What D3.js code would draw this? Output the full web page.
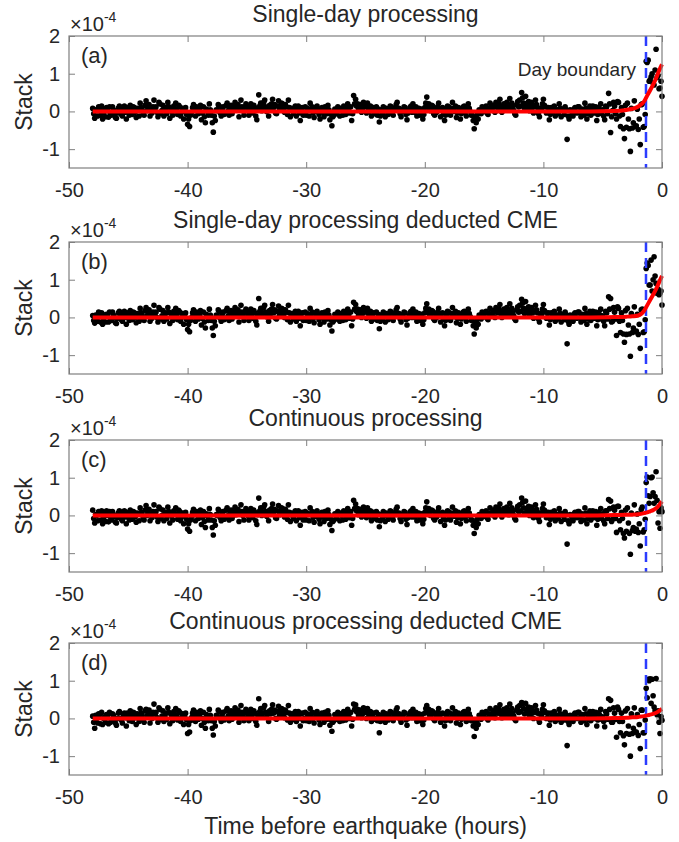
<!DOCTYPE html>
<html>
<head>
<meta charset="utf-8">
<script src="https://cdn.jsdelivr.net/npm/d3@7"></script>
<style>
body { margin: 0; background: #fff; }
text { font-family: "Liberation Sans", Arial, sans-serif; fill: #262626; }
</style>
</head>
<body>
<svg id="chart" width="679" height="842"></svg>
<script>
// panel titles and tags
const titles = ["Single-day processing", "Single-day processing deducted CME",
                "Continuous processing", "Continuous processing deducted CME"];
const tags = ["(a)", "(b)", "(c)", "(d)"];

// stack values, units of 1e-6, one value every 5 min from -48 h to 0 h (one row per hour)
const stackA = [
  8,-6,-18,4,2,-12,12,6,-10,14,-20,-4,
  4,-14,10,2,-15,12,-6,-10,12,4,-2,-16,
  -18,-4,9,14,3,-8,-12,6,14,-2,-20,10,
  2,-10,16,4,-8,12,10,-2,-16,8,6,-12,
  22,10,4,-6,-10,16,28,2,8,18,-12,4,
  -4,12,30,8,12,-2,-14,24,20,-6,2,16,
  -12,4,10,-6,24,12,-18,8,0,-10,14,6,
  22,4,-8,16,12,-12,-2,8,-20,2,10,-8,
  -34,-20,-40,-10,-2,10,18,4,-12,12,8,-6,
  4,16,-22,-4,12,-14,-30,6,0,-10,20,4,
  -10,-30,-55,-12,-24,4,2,18,14,-4,-12,6,
  12,-8,-4,16,22,2,-10,10,16,-6,2,14,
  24,4,8,18,-14,6,30,12,2,-10,12,20,
  14,2,-10,10,20,6,-4,16,10,-12,-22,4,
  44,14,22,2,10,24,30,12,0,8,-12,16,
  8,20,32,10,18,-4,-6,14,28,4,10,22,
  20,6,-2,18,12,-8,30,10,-14,4,8,-6,
  2,14,-12,6,14,-4,-24,8,10,-10,-4,12,
  -10,8,4,-12,22,6,12,-4,-16,10,0,14,
  4,-8,-20,6,10,-2,-14,12,2,-6,16,4,
  -22,-8,-38,-14,-10,6,2,-6,12,4,-12,8,
  2,-10,14,6,-8,10,20,2,-4,12,-24,-6,
  42,20,32,14,20,4,10,18,-2,8,24,12,
  14,-4,22,8,0,14,-12,6,10,-6,-4,12,
  -10,6,-28,-12,4,-6,12,2,-14,8,0,-8,
  2,14,12,-4,-10,8,4,18,24,6,8,-6,
  -14,4,0,12,10,-8,-22,-4,2,10,14,-2,
  20,6,-2,12,-12,2,8,-10,-4,6,-20,-8,
  10,22,38,12,20,4,2,16,14,-6,-10,6,
  -2,12,22,4,-14,8,10,-6,-24,-10,4,14,
  12,-4,-10,8,24,6,0,14,-16,-4,10,2,
  -20,-6,4,12,14,-2,-12,6,20,8,0,-10,
  -10,-24,-46,-18,-30,-8,-20,4,2,-6,12,4,
  0,10,14,-4,-8,8,22,6,4,16,12,-2,
  24,12,10,20,32,8,-2,14,20,6,14,24,
  12,4,34,16,22,10,2,-6,-10,18,26,12,
  30,14,50,36,22,8,40,20,12,26,2,16,
  24,10,-4,14,30,18,10,-6,-14,8,4,20,
  32,16,12,-4,-2,10,-22,-8,10,4,0,14,
  -12,2,4,-6,20,8,-14,6,2,-8,12,4,
  -74,-12,-20,4,2,-8,-12,6,10,-2,-4,12,
  12,-2,-14,6,4,-10,22,8,-20,-6,2,14,
  -10,6,14,-4,2,12,-24,-8,10,4,20,-6,
  4,-12,-22,14,12,-6,48,20,-56,-14,2,24,
  14,-6,-20,26,24,-12,-40,10,-8,-46,-72,16,
  -42,22,-20,-46,-106,8,-44,-30,28,-40,-38,6,
  -48,-20,-88,18,20,-42,-40,-8,133,130,136,80,
  84,92,100,75,70,110,165,90,95,60,62,80,
  40
];
const stackB = [
  5,-8,-15,6,4,-10,14,8,-12,12,-18,-2,
  6,-12,8,4,-12,14,-8,-8,14,6,0,-14,
  -16,-2,12,16,2,-6,-10,8,16,0,-18,12,
  4,-8,18,6,-6,14,12,0,-14,10,8,-10,
  24,12,6,-4,-8,18,26,4,10,20,-10,6,
  -2,14,32,10,14,0,-12,26,22,-4,4,18,
  -10,6,12,-4,26,14,-16,10,2,-8,16,8,
  24,6,-6,18,14,-10,0,10,-18,4,12,-6,
  -32,-18,-38,-8,0,12,20,6,-10,14,10,-4,
  6,18,-20,-2,14,-12,-28,8,2,-8,22,6,
  -8,-28,-48,-10,-22,6,4,20,16,-2,-10,8,
  14,-6,-2,18,24,4,-8,12,18,-4,4,16,
  26,6,10,20,-12,8,32,14,4,-8,14,22,
  16,4,-8,12,22,8,-2,18,12,-10,-20,6,
  50,16,24,4,12,26,32,14,2,10,-10,18,
  10,22,34,12,20,-2,-4,16,30,6,12,24,
  22,8,0,20,14,-6,32,12,-12,6,10,-4,
  4,16,-10,8,16,-2,-22,10,12,-8,-2,14,
  -8,10,6,-10,24,8,14,-2,-14,12,2,16,
  6,-6,-18,8,12,0,-12,14,4,-4,18,6,
  -20,-6,-36,-12,-8,8,4,-4,14,6,-10,10,
  4,-8,16,8,-6,12,22,4,-2,14,-22,-4,
  40,22,34,16,22,6,12,20,0,10,26,14,
  16,-2,24,10,2,16,-10,8,12,-4,-2,14,
  -8,8,-30,-10,6,-4,14,4,-12,10,2,-6,
  4,16,14,-2,-8,10,6,20,26,8,10,-4,
  -12,6,2,14,12,-6,-20,-2,4,12,16,0,
  22,8,0,14,-10,4,10,-8,-2,8,-18,-6,
  12,24,36,14,22,6,4,18,16,-4,-8,8,
  0,14,24,6,-12,10,12,-4,-22,-8,6,16,
  14,-2,-8,10,26,8,2,16,-14,-2,12,4,
  -18,-4,6,14,16,0,-10,8,22,10,2,-8,
  -8,-22,-44,-16,-28,-6,-18,6,4,-4,14,6,
  2,12,16,-2,-6,10,24,8,6,18,14,0,
  26,14,12,22,34,10,0,16,22,8,16,26,
  14,6,36,18,24,12,4,-4,-8,20,28,14,
  32,16,48,38,24,10,42,22,14,28,4,18,
  26,12,-2,16,32,20,12,-4,-12,10,6,22,
  34,18,14,-2,0,12,-20,-6,12,6,2,16,
  -10,4,6,-4,22,10,-12,8,4,-6,14,6,
  -70,-10,-18,6,4,-6,-10,8,12,0,-2,14,
  14,0,-12,8,6,-8,24,10,-18,-4,4,16,
  -8,8,16,-2,4,14,-22,-6,12,6,22,-4,
  4,-10,-22,16,12,-4,55,22,50,-12,-10,26,
  14,-4,-48,28,24,-10,-40,12,-8,-44,-66,18,
  -45,24,-20,-44,-103,10,-40,-28,28,-38,-36,8,
  -45,-18,-82,20,22,-40,-38,-6,130,144,138,86,
  86,152,70,100,161,110,90,64,75,60,64,70,
  33
];
const stackC = [
  14,-8,-20,2,0,-14,10,4,-12,12,-22,-6,
  2,-16,12,0,-17,10,-4,-12,10,2,-4,-18,
  -20,-6,7,12,5,-10,-14,4,12,-4,-22,8,
  0,-12,14,2,-10,10,8,-4,-18,6,4,-14,
  20,8,2,-8,-12,14,26,0,6,16,-14,2,
  -6,10,28,6,10,-4,-16,22,18,-8,0,14,
  -14,2,8,-8,22,10,-20,6,-2,-12,12,4,
  20,2,-10,14,10,-14,-4,6,-22,0,8,-10,
  -36,-22,-42,-12,-4,8,16,2,-14,10,6,-8,
  2,14,-24,-6,10,-16,-32,4,-2,-12,18,2,
  -12,-32,-52,-14,-26,2,0,16,12,-6,-14,4,
  10,-10,-6,14,20,0,-12,8,14,-8,0,12,
  22,2,6,16,-16,4,28,10,0,-12,10,18,
  12,0,-12,8,18,4,-6,14,8,-14,-24,2,
  46,12,20,0,8,22,28,10,-2,6,-14,14,
  6,18,30,8,16,-6,-8,12,26,2,8,20,
  18,4,-4,16,10,-10,28,8,-16,2,6,-8,
  0,12,-14,4,12,-6,-26,6,8,-12,-6,10,
  -12,6,2,-14,20,4,10,-6,-18,8,-2,12,
  2,-10,-22,4,8,-4,-16,10,0,-8,14,2,
  -24,-10,-40,-16,-12,4,0,-8,10,2,-14,6,
  0,-12,12,4,-10,8,18,0,-6,10,-26,-8,
  40,18,30,12,18,2,8,16,-4,6,22,10,
  12,-6,20,6,-2,12,-14,4,8,-8,-6,10,
  -12,4,-30,-14,2,-8,10,0,-16,6,-2,-10,
  0,12,10,-6,-12,6,2,16,22,4,6,-8,
  -16,2,-2,10,8,-10,-24,-6,0,8,12,-4,
  18,4,-4,10,-14,0,6,-12,-6,4,-22,-10,
  8,20,36,10,18,2,0,14,12,-8,-12,4,
  -4,10,20,2,-16,6,8,-8,-26,-12,2,12,
  10,-6,-12,6,22,4,-2,12,-18,-6,8,0,
  -22,-8,2,10,12,-4,-14,4,18,6,-2,-12,
  -12,-26,-48,-20,-32,-10,-22,2,0,-8,10,2,
  -2,8,12,-6,-10,6,20,4,2,14,10,-4,
  22,10,8,18,30,6,-4,12,18,4,12,22,
  10,2,32,14,20,8,0,-8,-12,16,24,10,
  28,12,46,34,20,6,38,18,10,24,0,14,
  22,8,-6,12,28,16,8,-8,-16,6,2,18,
  30,14,10,-6,-4,8,-24,-10,8,2,-2,12,
  -14,0,2,-8,18,6,-16,4,0,-10,10,2,
  -76,-14,-22,2,0,-10,-14,4,8,-4,-6,10,
  10,-4,-16,4,2,-12,20,6,-22,-8,0,12,
  -12,4,12,-6,0,10,-26,-10,8,2,18,-8,
  4,-14,-22,12,12,-8,42,18,38,-16,-10,22,
  14,-8,-45,24,24,-14,-38,8,-8,-48,-60,14,
  -42,20,-20,-48,-103,6,-40,-32,28,-42,-36,4,
  -45,-22,-81,16,22,-44,-38,-10,87,102,52,32,
  50,100,102,60,32,50,116,40,-20,10,-34,20,
  10
];
const stackD = [
  6,-10,-26,8,0,-12,12,10,-14,16,-16,0,
  4,-10,10,6,-14,16,-10,-6,12,8,-2,-12,
  -18,0,14,18,0,-4,-12,10,14,2,-20,14,
  2,-6,20,8,-8,16,14,2,-16,12,10,-8,
  26,14,8,-2,-10,20,24,6,12,22,-12,8,
  0,16,38,12,16,2,-10,28,24,-2,6,20,
  -8,8,14,-2,28,16,-14,12,4,-6,18,10,
  26,8,-4,20,16,-8,2,12,-16,6,14,-4,
  -40,-16,-36,-6,2,14,22,8,-8,16,12,-2,
  8,20,-18,0,16,-10,-26,10,4,-6,24,8,
  -6,-26,-44,-8,-20,8,6,22,18,0,-8,10,
  16,-4,0,20,26,6,-6,14,20,-2,6,18,
  28,8,12,22,-10,10,34,16,6,-6,16,24,
  18,6,-6,14,24,10,0,20,14,-8,-18,8,
  52,18,26,6,14,28,34,16,4,12,-8,20,
  12,24,36,14,22,0,-2,18,32,8,14,26,
  24,10,2,22,16,-4,34,14,-10,8,12,-2,
  6,18,-8,10,18,0,-20,12,14,-6,0,16,
  -6,12,8,-8,26,10,16,0,-12,14,4,18,
  8,-4,-16,10,14,2,-10,16,6,-2,20,8,
  -18,-4,-34,-10,-6,10,6,-2,16,8,-8,12,
  6,-6,18,10,-4,14,24,6,0,16,-20,-2,
  38,24,36,18,24,8,14,22,2,12,28,16,
  18,0,26,12,4,18,-8,10,14,-2,0,16,
  -6,10,-38,-8,8,-2,16,6,-10,12,4,-4,
  6,18,16,0,-6,12,8,22,28,10,12,-2,
  -10,8,4,16,14,-4,-18,0,6,14,18,2,
  24,10,2,16,-8,6,12,-6,0,10,-16,-4,
  14,26,34,16,24,8,6,20,18,-2,-6,10,
  2,16,26,8,-10,12,14,-2,-20,-6,8,18,
  16,0,-6,12,28,10,4,18,-12,0,14,6,
  -16,-2,8,16,18,2,-8,10,24,12,4,-6,
  -6,-20,-48,-14,-26,-4,-16,8,6,-2,16,8,
  4,14,18,0,-4,12,26,10,8,20,16,2,
  28,16,14,24,36,12,2,18,24,10,18,28,
  16,8,38,20,26,14,6,-2,-6,22,30,16,
  34,18,42,40,26,12,40,24,16,30,6,20,
  28,14,0,18,34,22,14,-2,-10,12,8,24,
  36,20,16,0,2,14,-18,-4,14,8,4,18,
  -8,6,8,-2,24,12,-10,10,6,-4,16,8,
  -72,-8,-16,8,6,-4,-8,10,14,2,0,16,
  16,2,-10,10,8,-6,26,12,-16,-2,6,18,
  -6,10,18,0,6,16,-20,-4,14,8,24,-2,
  4,-8,-22,18,12,-2,52,24,48,-10,-10,28,
  14,-2,-50,30,24,-8,-38,14,-8,-46,-70,20,
  -40,26,-20,-42,-100,12,-40,-26,28,-36,-36,10,
  -45,-16,-80,22,22,-38,-38,-4,80,55,104,100,
  105,40,104,60,30,20,106,10,20,-10,-40,5,
  -5
];

// red fitted curves, units of 1e-4, read at these hours
const fitHours = [-48, -6, -4, -3, -2.5, -2, -1.5, -1.25, -1, -0.75, -0.5, -0.25, 0];
const fitA = [0, 0, 0.01, 0.04, 0.07, 0.13, 0.27, 0.42, 0.56, 0.71, 0.88, 1.08, 1.25];
const fitB = [0, 0, 0.01, 0.02, 0.03, 0.05, 0.18, 0.32, 0.46, 0.6, 0.75, 0.93, 1.1];
const fitC = [0, 0, 0.01, 0.015, 0.02, 0.03, 0.06, 0.08, 0.11, 0.14, 0.19, 0.27, 0.37];
const fitD = [0, 0, 0.01, 0.02, 0.03, 0.04, 0.06, 0.08, 0.1, 0.12, 0.15, 0.2, 0.25];

const boundaryHour = -1.35;
const xTicks = [-50, -40, -30, -20, -10, 0];
const yTicks = [-1, 0, 1, 2];

const stacks = [stackA, stackB, stackC, stackD];
const fits = [fitA, fitB, fitC, fitD];

const svg = d3.select("#chart");
const left = 69, right = 662, plotH = 132;
const tops = [36, 242, 440, 643];
const gray = "#7f7f7f";

const x = d3.scaleLinear().domain([-50, 0]).range([left, right]);

tops.forEach((top, k) => {
  const y = d3.scaleLinear().domain([-1.5, 2]).range([top + plotH, top]);
  const g = svg.append("g");

  // axes (ticks point inwards, like matlab)
  g.append("g")
    .attr("transform", `translate(0,${top + plotH})`)
    .call(d3.axisBottom(x).tickValues(xTicks).tickSizeInner(-6).tickSizeOuter(0)
      .tickPadding(15).tickFormat(d => String(d)));
  g.append("g")
    .attr("transform", `translate(0,${top})`)
    .call(d3.axisTop(x).tickValues(xTicks).tickSizeInner(-6).tickSizeOuter(0).tickFormat(""));
  g.append("g")
    .attr("transform", `translate(${left},0)`)
    .call(d3.axisLeft(y).tickValues(yTicks).tickSizeInner(-6).tickSizeOuter(0)
      .tickPadding(9).tickFormat(d => String(d)));
  g.append("g")
    .attr("transform", `translate(${right},0)`)
    .call(d3.axisRight(y).tickValues(yTicks).tickSizeInner(-6).tickSizeOuter(0).tickFormat(""));

  g.selectAll(".domain").remove();
  g.selectAll(".tick line").attr("stroke", gray);
  g.selectAll(".tick text").style("font-size", "20px").attr("fill", "#262626");

  // scatter, 12 samples per hour
  g.append("g").selectAll("circle")
    .data(stacks[k])
    .join("circle")
    .attr("cx", (d, i) => x(-48 + i / 12))
    .attr("cy", d => y(d / 100))
    .attr("r", 2.8)
    .attr("fill", "#000");

  // day boundary
  g.append("line")
    .attr("x1", x(boundaryHour)).attr("x2", x(boundaryHour))
    .attr("y1", top).attr("y2", top + plotH)
    .attr("stroke", "#2b3cff")
    .attr("stroke-width", 2.5)
    .attr("stroke-dasharray", "10,6");

  // fitted curve
  const line = d3.line()
    .x((d, i) => x(fitHours[i]))
    .y(d => y(d))
    .curve(d3.curveMonotoneX);
  g.append("path")
    .datum(fits[k])
    .attr("d", line)
    .attr("fill", "none")
    .attr("stroke", "#ff0000")
    .attr("stroke-width", 4);

  // box
  g.append("rect")
    .attr("x", left).attr("y", top)
    .attr("width", right - left).attr("height", plotH)
    .attr("fill", "none")
    .attr("stroke", gray)
    .attr("stroke-width", 1.2);

  // title
  g.append("text")
    .attr("x", (left + right) / 2).attr("y", top - 14)
    .attr("text-anchor", "middle")
    .style("font-size", "23px")
    .text(titles[k]);

  // exponent label
  const exp = g.append("text")
    .attr("x", 70).attr("y", top - 5)
    .style("font-size", "20px");
  exp.append("tspan").text("×10");
  exp.append("tspan").attr("dy", -9).style("font-size", "14px").text("-4");

  // panel tag
  g.append("text")
    .attr("x", 81).attr("y", top + 27)
    .style("font-size", "22px")
    .text(tags[k]);

  // y label
  g.append("text")
    .attr("transform", `translate(32,${top + plotH / 2}) rotate(-90)`)
    .attr("text-anchor", "middle")
    .style("font-size", "23px")
    .text("Stack");
});

// day boundary note on the first panel
svg.append("text")
  .attr("x", 636).attr("y", 76)
  .attr("text-anchor", "end")
  .style("font-size", "19px")
  .text("Day boundary");

// shared x label
svg.append("text")
  .attr("x", (left + right) / 2).attr("y", 834)
  .attr("text-anchor", "middle")
  .style("font-size", "23px")
  .text("Time before earthquake (hours)");
</script>
</body>
</html>
